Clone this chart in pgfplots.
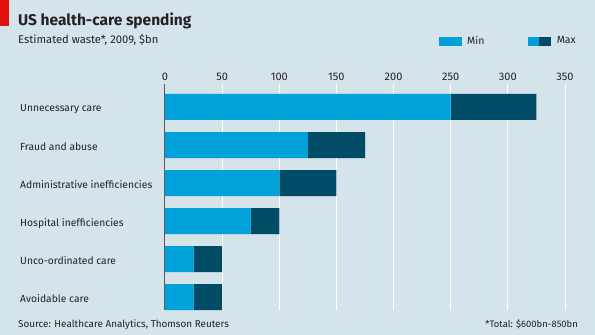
\documentclass[border=0pt]{standalone}
\usepackage{pgfplots}
\pgfplotsset{compat=1.18}
\usepackage{fontspec}
\setmainfont{Fira Sans}
\definecolor{bg}{HTML}{D5E3EB}
\definecolor{minc}{HTML}{00A2D9}
\definecolor{maxc}{HTML}{004B65}
\definecolor{redtab}{HTML}{E3120B}
\definecolor{txt}{HTML}{222222}
\begin{document}
\begin{tikzpicture}[x=1pt,y=1pt]
\fill[bg] (0,0) rectangle (595,335);
\fill[redtab] (0,309) rectangle (9,335);
\node[anchor=base west, inner sep=0pt, text=txt, font=\fontsize{15.5}{17}\selectfont\bfseries] at (18,309) {US health-care spending};
\node[anchor=base west, inner sep=0pt, text=txt, font=\fontsize{11.2}{13}\selectfont] at (18,291) {Estimated waste*, 2009, \$bn};
\node[anchor=base west, inner sep=0pt, text=txt, font=\fontsize{9.9}{11}\selectfont] at (18,8) {Source: Healthcare Analytics, Thomson Reuters};
\node[anchor=base east, inner sep=0pt, text=txt, font=\fontsize{9.4}{11}\selectfont] at (578,8) {*Total: \$600bn-850bn};
\begin{axis}[
  at={(165pt,25pt)}, anchor=south west,
  width=400pt, height=226pt, scale only axis,
  xmin=0, xmax=350, ymin=-0.605, ymax=5.34,
  y dir=reverse,
  xbar stacked, bar width=26pt,
  axis line style={draw=none},
  tick style={draw=none},
  xtick={0,50,...,350},
  xticklabel pos=upper,
  xmajorgrids, grid style={white, line width=1pt},
  extra x ticks={0}, extra x tick labels={},
  extra x tick style={grid style={gray!70!black, line width=1pt}},
  ytick={0,1,2,3,4,5},
  yticklabels={Unnecessary care, Fraud and abuse, Administrative inefficiencies, Hospital inefficiencies, Unco-ordinated care, Avoidable care},
  yticklabel style={anchor=base west, xshift=-145pt, yshift=-5pt, inner sep=0pt, text=txt, font=\fontsize{10.3}{12}\selectfont},
  xticklabel style={text=txt, font=\fontsize{11}{12}\selectfont, yshift=0pt},
  /pgf/number format/assume math mode=true,
  legend columns=2,
  legend style={at={(1.04,1.19)}, anchor=east, draw=none, fill=none, font=\fontsize{10.5}{12}\selectfont, text=txt,
    /tikz/every odd column/.append style={column sep=4pt},
    /tikz/every even column/.append style={column sep=42pt}},
]
\addplot[fill=minc, draw=none, forget plot] coordinates {(250,0) (125,1) (100,2) (75,3) (25,4) (25,5)};
\addplot[fill=maxc, draw=none, forget plot] coordinates {(75,0) (50,1) (50,2) (25,3) (25,4) (25,5)};
\addlegendimage{legend image code/.code={\fill[minc] (0pt,-4pt) rectangle (22pt,4pt);}}
\addlegendentry{Min}
\addlegendimage{legend image code/.code={\fill[minc] (0pt,-4pt) rectangle (11pt,4pt); \fill[maxc] (11pt,-4pt) rectangle (22pt,4pt);}}
\addlegendentry{Max}
\end{axis}
\end{tikzpicture}
\end{document}
